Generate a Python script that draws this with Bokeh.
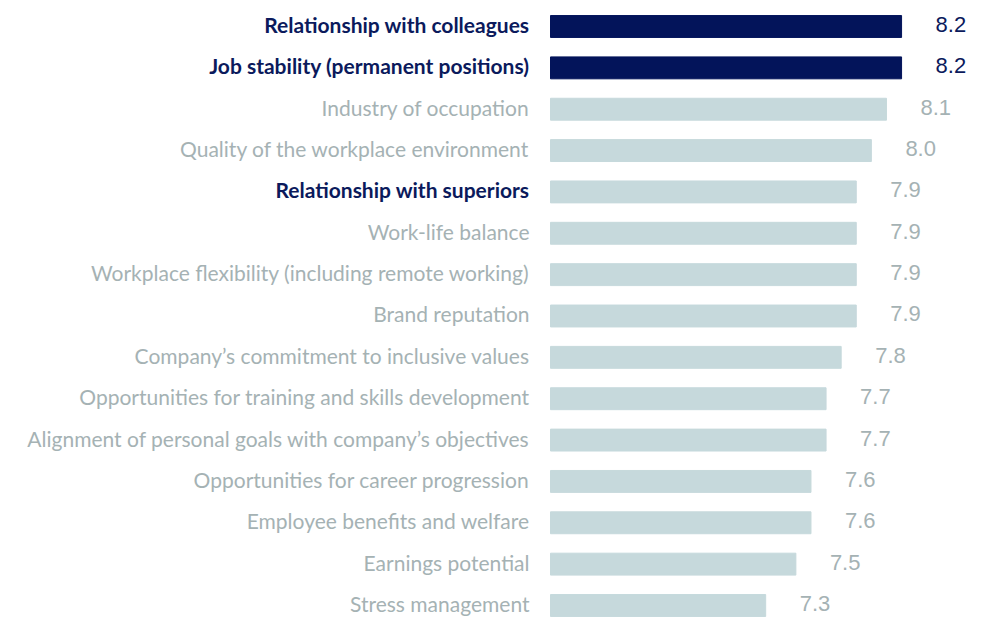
from bokeh.plotting import figure
from bokeh.models import ColumnDataSource, Range1d
from bokeh.core.properties import value
from bokeh.embed import file_html
from bokeh.resources import INLINE

categories = [
    "Relationship with colleagues",
    "Job stability (permanent positions)",
    "Industry of occupation",
    "Quality of the workplace environment",
    "Relationship with superiors",
    "Work-life balance",
    "Workplace flexibility (including remote working)",
    "Brand reputation",
    "Company\u2019s commitment to inclusive values",
    "Opportunities for training and skills development",
    "Alignment of personal goals with company\u2019s objectives",
    "Opportunities for career progression",
    "Employee benefits and welfare",
    "Earnings potential",
    "Stress management",
]
scores = [8.2, 8.2, 8.1, 8.0, 7.9, 7.9, 7.9, 7.9, 7.8, 7.7, 7.7, 7.6, 7.6, 7.5, 7.3]
bar_highlight = [True, True, False, False, False, False, False, False, False, False, False, False, False, False, False]
label_highlight = [True, True, False, False, True, False, False, False, False, False, False, False, False, False, False]

BASE = 5.875
NAVY_BAR = "#03145a"
NAVY_TXT = "#0b1a5c"
GREY_BAR = "#c6d9dc"
GREY_TXT = "#a5b2b4"

ypos = list(range(len(categories)))
src = ColumnDataSource(dict(
    y=ypos,
    cat=categories,
    val=scores,
    lab=[f"{v:.1f}" for v in scores],
    left=[BASE] * len(scores),
    bar_color=[NAVY_BAR if h else GREY_BAR for h in bar_highlight],
    val_color=[NAVY_TXT if h else GREY_TXT for h in bar_highlight],
    txt_color=[NAVY_TXT if h else GREY_TXT for h in label_highlight],
    weight=["bold" if h else "normal" for h in label_highlight],
))

W, H = 988, 617
ppu = 151.0
spacing = 41.36
x0 = BASE - 550 / ppu
p = figure(width=W, height=H, output_backend="svg", toolbar_location=None,
           x_range=Range1d(x0, x0 + W / ppu),
           y_range=Range1d(14 + (H - 605) / spacing, -26 / spacing),
           min_border=0, outline_line_color=None)
p.axis.visible = False
p.grid.visible = False
p.background_fill_color = "white"
p.border_fill_color = "white"

p.hbar(y="y", left="left", right="val", height=0.53, color="bar_color", source=src)

p.text(x="left", y="y", text="cat", source=src, text_align="right", text_baseline="middle",
       x_offset=-21, y_offset=-2, text_font=value("Lato"), text_font_size="21px",
       text_color="txt_color", text_font_style="weight")

p.text(x="val", y="y", text="lab", source=src, text_align="left", text_baseline="middle",
       x_offset=34, y_offset=-2, text_font=value("Liberation Sans"), text_font_size="22px",
       text_color="val_color")

open("out.html", "w").write(file_html(p, INLINE))
